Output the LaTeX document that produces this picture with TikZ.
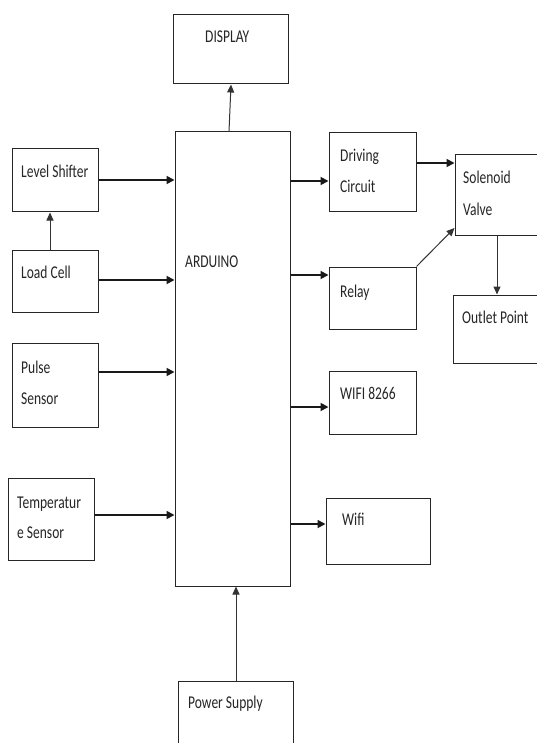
\documentclass[tikz,border=0pt]{standalone}
\usepackage{fontspec}
\setmainfont{Carlito}[FakeStretch=0.75]
\usetikzlibrary{arrows.meta}
\begin{document}
\begin{tikzpicture}[x=1pt,y=-1pt,
  box/.style={draw=black!85,line width=1pt,inner sep=0pt,rectangle},
  txt/.style={anchor=base west,inner sep=0pt,text=black!85,font=\fontsize{18}{30}\selectfont},
  arr/.style={draw=black!90,line width=1.7pt,-{Triangle[length=8pt,width=8pt]}},
  tarr/.style={draw=black!80,line width=1pt,-{Triangle[length=8pt,width=7pt]}}]
\clip (0,0) rectangle (537,743);
\fill[white] (0,0) rectangle (537,743);
% boxes
\node[box,minimum width=115pt,minimum height=69pt] (disp) at (230.5,49.5) {};
\node[box,minimum width=115pt,minimum height=454pt] (ard) at (232.5,359) {};
\node[box,minimum width=86pt,minimum height=63pt] (ls) at (55,180.5) {};
\node[box,minimum width=86pt,minimum height=62pt] (lc) at (55,281) {};
\node[box,minimum width=86pt,minimum height=84pt] (ps) at (55,385) {};
\node[box,minimum width=86pt,minimum height=82pt] (ts) at (51,519) {};
\node[box,minimum width=115pt,minimum height=79pt] (pw) at (235.5,720.5) {};
\node[box,minimum width=87pt,minimum height=79pt] (dc) at (372.5,172.5) {};
\node[box,minimum width=87pt,minimum height=62pt] (rl) at (372.5,298) {};
\node[box,minimum width=87pt,minimum height=63pt] (wa) at (372.5,402.5) {};
\node[box,minimum width=104pt,minimum height=66pt] (wb) at (378,531) {};
\node[box,minimum width=90pt,minimum height=80pt] (sv) at (500,195) {};
\node[box,minimum width=92pt,minimum height=68pt] (op) at (499,329) {};
% texts
\node[txt] (t-disp) at (205,43) {DISPLAY};
\node[txt] (t-ard) at (185,267) {ARDUINO};
\node[txt] (t-ls) at (21,178) {Level Shifter};
\node[txt] (t-lc) at (21,278) {Load Cell};
\node[txt] (t-ps1) at (21,373) {Pulse};
\node[txt] (t-ps2) at (21,404) {Sensor};
\node[txt] (t-ts1) at (17,508) {Temperatur};
\node[txt] (t-ts2) at (17,538) {e Sensor};
\node[txt] (t-dc1) at (340,162) {Driving};
\node[txt] (t-dc2) at (340,193) {Circuit};
\node[txt] (t-sv1) at (463,184) {Solenoid};
\node[txt] (t-sv2) at (463,215) {Valve};
\node[txt] (t-rl) at (340,297) {Relay};
\node[txt] (t-op) at (462,323) {Outlet Point};
\node[txt] (t-wa) at (340,399) {WIFI 8266};
\node[txt] (t-wb) at (342,525) {Wifi};
\node[txt] (t-pw) at (188,708) {Power Supply};
% connectors
\draw[arr] (ls.east |- 0,180) -- (ard.west |- 0,180);
\draw[arr] (lc.east |- 0,280) -- (ard.west |- 0,280);
\draw[arr] (ps.east |- 0,372) -- (ard.west |- 0,372);
\draw[arr] (ts.east |- 0,515) -- (ard.west |- 0,515);
\draw[tarr] (lc.north -| 50,0) -- (ls.south -| 50,0);
\draw[tarr] (ard.north -| 229,0) -- (disp.south -| 231,0);
\draw[tarr] (pw.north -| 236,0) -- (ard.south -| 236,0);
\draw[arr] (ard.east |- 0,181) -- (dc.west |- 0,181);
\draw[arr] (ard.east |- 0,275) -- (rl.west |- 0,275);
\draw[arr] (ard.east |- 0,407) -- (wa.west |- 0,407);
\draw[arr] (ard.east |- 0,524) -- (wb.west |- 0,524);
\draw[arr] (dc.east |- 0,163) -- (sv.west |- 0,163);
\draw[tarr] (rl.north east) -- (sv.west |- 0,228);
\draw[tarr] (sv.south -| 497,0) -- (op.north -| 497,0);
\end{tikzpicture}
\end{document}
